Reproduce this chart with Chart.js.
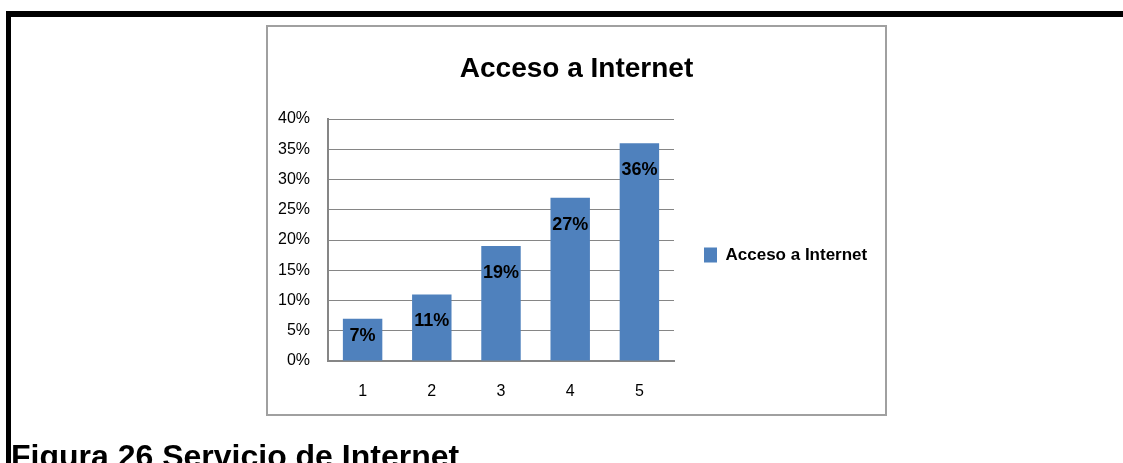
<!DOCTYPE html>
<html>
<head>
<meta charset="utf-8">
<script src="https://cdn.jsdelivr.net/npm/chart.js@4.4.1/dist/chart.umd.min.js"></script>
<style>
  html, body { margin: 0; padding: 0; background: #fff; }
  body { width: 1123px; height: 463px; position: relative; overflow: hidden; }
  .rule-top { position: absolute; left: 6px; top: 11px; right: 0; height: 6px; background: #000; }
  .rule-left { position: absolute; left: 6px; top: 11px; width: 5px; bottom: 0; background: #000; }
  .frame { position: absolute; left: 266px; top: 25px; width: 621px; height: 391px;
           box-sizing: border-box; border: 2px solid #a0a0a0; }
  #chart { position: absolute; left: 0; top: 0; }
  .caption { position: absolute; left: 11px; top: 440px; white-space: nowrap;
             font: bold 32px/32px 'Liberation Sans', Arial, sans-serif; color: #000; z-index: 2; }
</style>
</head>
<body>
<div class="rule-top"></div>
<div class="rule-left"></div>
<div class="frame"></div>
<canvas id="chart" width="1123" height="463"></canvas>
<div class="caption">Figura 26 Servicio de Internet</div>
<script>
// Data
const categories = ['1', '2', '3', '4', '5'];
const seriesName = 'Acceso a Internet';
const accessValues = [7, 11, 19, 27, 36];   // percent
const yTicks = [0, 5, 10, 15, 20, 25, 30, 35, 40];

const FONT = "'Liberation Sans', Arial, sans-serif";
const W = 1123, H = 463;
const barBlue = '#4f81bd';
const gridGray = '#868686';

// Legend geometry (vertical legend on the right)
const legendFont = { family: FONT, size: 17, weight: 'bold' };
const legendPad = 30, legendBoxW = 13, legendBoxH = 15;
const m = document.createElement('canvas').getContext('2d');
m.font = 'bold 17px ' + FONT;
const legendTextW = m.measureText(seriesName).width;
const legendW = legendPad + legendBoxW + legendFont.size / 2 + legendTextW + 10;

const plotLeft = 328, plotRight = 674, titleCenterX = 576.5;
const padRight = W - plotRight - legendW;
const padLeft = 2 * titleCenterX - W + padRight;
const yAxisW = plotLeft - padLeft;

// Value labels inside the top of each bar
const valueLabels = {
  id: 'valueLabels',
  afterDatasetsDraw(chart) {
    const ctx = chart.ctx;
    const meta = chart.getDatasetMeta(0);
    ctx.save();
    ctx.font = 'bold 18px ' + FONT;
    ctx.fillStyle = '#000';
    ctx.textAlign = 'center';
    ctx.textBaseline = 'middle';
    meta.data.forEach((bar, i) => {
      const y = Math.min(bar.y + 27, bar.base - 24);
      ctx.fillText(accessValues[i] + '%', bar.x, y);
    });
    ctx.restore();
  }
};

new Chart(document.getElementById('chart'), {
  type: 'bar',
  data: {
    labels: categories,
    datasets: [{
      label: seriesName,
      data: accessValues,
      backgroundColor: barBlue,
      borderWidth: 0,
      categoryPercentage: 1,
      barPercentage: 0.57
    }]
  },
  options: {
    responsive: false,
    animation: false,
    devicePixelRatio: 1,
    layout: { padding: { top: 47, bottom: 0, left: padLeft, right: padRight } },
    plugins: {
      tooltip: { enabled: false },
      title: {
        display: true,
        text: 'Acceso a Internet',
        color: '#000',
        font: { family: FONT, size: 28, weight: 'bold' },
        padding: { top: 5, bottom: 33.4 }
      },
      legend: {
        display: true,
        position: 'right',
        align: 'center',
        maxWidth: 600,
        labels: {
          color: '#000',
          font: legendFont,
          boxWidth: legendBoxW,
          boxHeight: legendBoxH,
          padding: legendPad
        }
      }
    },
    scales: {
      x: {
        grid: { display: false, drawTicks: false },
        border: { display: true, color: gridGray, width: 2 },
        ticks: { color: '#000', font: { family: FONT, size: 16 }, padding: 21 },
        afterFit(scale) { scale.height = H - 361; }
      },
      y: {
        min: 0,
        max: 40,
        afterBuildTicks(scale) { scale.ticks = yTicks.map(v => ({ value: v })); },
        grid: { color: gridGray, lineWidth: 1, drawTicks: false },
        border: { display: true, color: gridGray, width: 2 },
        ticks: { color: '#000', font: { family: FONT, size: 16 }, padding: 18,
                 callback: v => v + '%' },
        afterFit(scale) { scale.width = yAxisW; }
      }
    }
  },
  plugins: [valueLabels]
});
</script>
</body>
</html>
